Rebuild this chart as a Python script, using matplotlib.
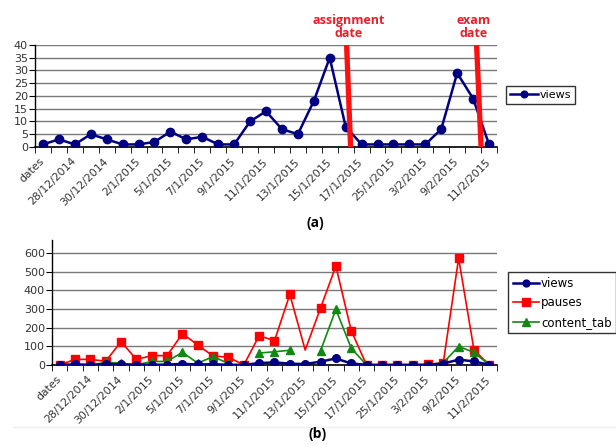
import numpy as np
import matplotlib
matplotlib.use("Agg")
from matplotlib import pyplot as plt
from matplotlib.lines import Line2D
from matplotlib.transforms import ScaledTranslation

# category labels (every other category is labelled, like in Excel)
dates = ['dates', '', '28/12/2014', '', '30/12/2014', '', '2/1/2015', '',
         '5/1/2015', '', '7/1/2015', '', '9/1/2015', '', '11/1/2015', '',
         '13/1/2015', '', '15/1/2015', '', '17/1/2015', '', '25/1/2015', '',
         '3/2/2015', '', '9/2/2015', '', '11/2/2015']

views = [1, 3, 1, 5, 3, 1, 1, 2, 6, 3, 4, 1, 1, 10, 14, 7, 5, 18, 35, 8,
         1, 1, 1, 1, 1, 7, 29, 19, 1]
pauses = [0, 30, 30, 20, 125, 30, 50, 50, 168, 107, 48, 42, 0, 157, 130,
          378, 80, 305, 530, 184, 0, 0, 0, 0, 3, 12, 572, 81, 0]
content_tab = [0, 3, 0, 14, 10, 0, 19, 19, 68, 10, 45, 8, np.nan, 64, 71,
               79, np.nan, 76, 298, 90, 0, 0, 0, 0, 2, 12, 99, 68, 0]

# red markers for the two events (top x, bottom x in category units)
assignment_x = (19.06, 19.31)
exam_x = (27.22, 27.5)

x = np.arange(len(views))
label_idx = [i for i, d in enumerate(dates) if d]
tick_color = '#333333'

fig = plt.figure(figsize=(6.16, 4.45), dpi=100)


def style_axes(ax, ymax, ystep, ytop):
    ax.set_xlim(-0.5, len(views) - 0.5)
    ax.set_ylim(0, ytop)
    ax.set_yticks(np.arange(0, ymax + 1, ystep))
    ax.grid(axis='y', color='#7a7a7a', linewidth=1)
    ax.set_axisbelow(True)
    for s in ['top', 'right']:
        ax.spines[s].set_visible(False)
    ax.spines['left'].set_linewidth(1)
    ax.spines['bottom'].set_linewidth(1.2)
    ax.set_xticks(label_idx)
    ax.set_xticklabels([dates[i] for i in label_idx], rotation=45,
                       ha='right', va='center', rotation_mode='anchor',
                       fontsize=7.8, color=tick_color)
    shift = ScaledTranslation(-5 / 100, 0, fig.dpi_scale_trans)
    for lab in ax.get_xticklabels():
        lab.set_transform(lab.get_transform() + shift)
    ax.set_xticks(np.arange(-0.5, len(views)), minor=True)
    ax.tick_params(axis='x', which='major', length=0, pad=9)
    ax.tick_params(axis='x', which='minor', length=4, direction='out')
    ax.tick_params(axis='y', length=4, direction='out', labelsize=8,
                   labelcolor=tick_color, pad=1)


# (a) views only
ax1 = fig.add_axes([0.0568, 0.6697, 0.75, 0.2292])
ax1.plot(x, views, color='#000080', marker='o', markersize=6, linewidth=1.8,
         label='views', zorder=3)
style_axes(ax1, 40, 5, 40)

red = '#ff1010'
for xs in (assignment_x, exam_x):
    ax1.plot([xs[0], xs[1]], [40, 0], color=red, linewidth=3.8, zorder=4,
             solid_capstyle='butt', clip_on=False)
ax1.text(19.2, 42, 'assignment\ndate', color='#e8202a', fontsize=9,
         fontweight='bold', family='Open Sans', ha='center', va='bottom',
         linespacing=1.0)
ax1.text(27.0, 42, 'exam\ndate', color='#e8202a', fontsize=9,
         fontweight='bold', family='Open Sans', ha='center', va='bottom',
         linespacing=1.0)

leg1 = fig.legend(handles=ax1.get_lines()[:1], loc='upper left',
                  bbox_to_anchor=(506 / 616, 1 - 86 / 445), fontsize=8,
                  frameon=True, fancybox=False, handlelength=2.5,
                  handletextpad=0.2, borderpad=0.35, borderaxespad=0,
                  markerscale=0.8)
leg1.get_frame().set_edgecolor('black')
leg1.get_frame().set_linewidth(1)

fig.text(315 / 616, 1 - 223 / 445, '(a)', fontsize=10, fontweight='bold',
         family='Open Sans', ha='center', va='center')

# (b) views, pauses and content_tab
ax2 = fig.add_axes([0.0844, 0.1798, 0.7224, 0.2809])
ax2.plot(x, views, color='#000080', marker='o', markersize=5.5,
         linewidth=1.8, label='views', zorder=5)
marks = [i for i in x if i != 16]
ax2.plot(x, pauses, color='#ff0000', marker='s', markersize=5.8,
         linewidth=1.2, label='pauses', markevery=marks, zorder=3)
ax2.plot(x, content_tab, color='#118811', marker='^', markersize=5.8,
         linewidth=1.2, label='content_tab', zorder=4)
style_axes(ax2, 600, 100, 670)

leg2 = fig.legend(handles=ax2.get_lines(), loc='upper left',
                  bbox_to_anchor=(508 / 616, 1 - 272 / 445), fontsize=8.5,
                  frameon=True, fancybox=False, handlelength=2.2,
                  handletextpad=0.2, borderpad=0.4, borderaxespad=0,
                  labelspacing=0.55, markerscale=0.9)
leg2.get_frame().set_edgecolor('black')
leg2.get_frame().set_linewidth(1)

fig.text(318 / 616, 1 - 434 / 445, '(b)', fontsize=10, fontweight='bold',
         family='Open Sans', ha='center', va='center')

# faint frame line of the original figure panel
fig.add_artist(Line2D([13 / 616, 1], [1 - 427 / 445, 1 - 427 / 445],
                      color='#eeeeee', linewidth=1))

fig.savefig('out.png', dpi=100)
